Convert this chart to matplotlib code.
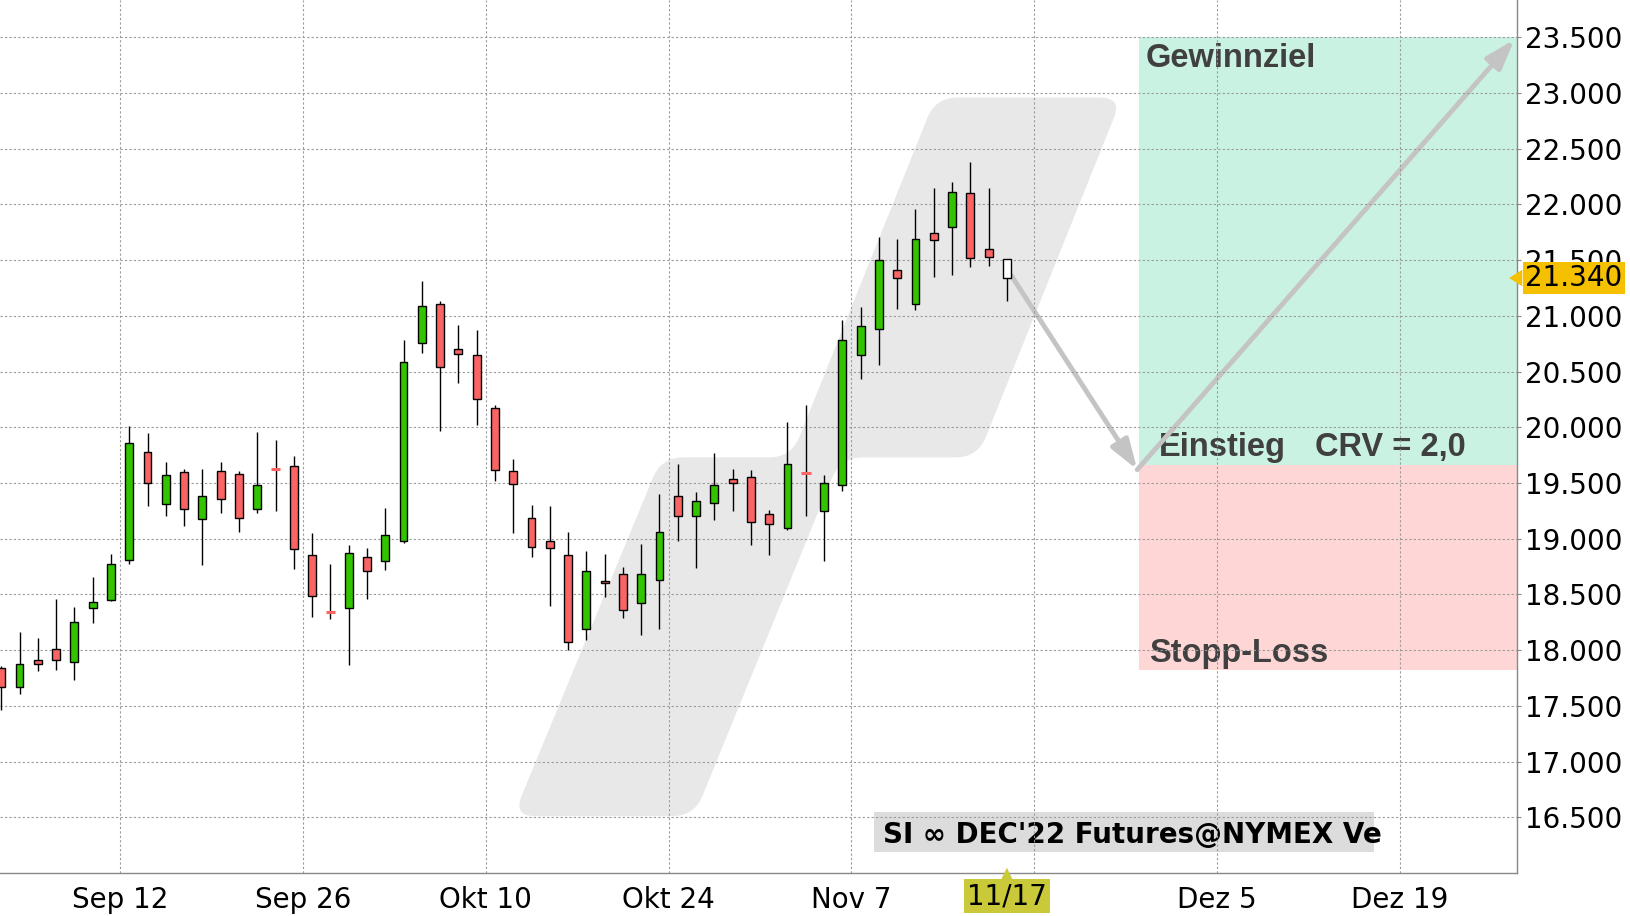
import numpy as np
import pandas as pd
import matplotlib
matplotlib.use('Agg')
import matplotlib.pyplot as plt
from matplotlib.patches import Rectangle, Polygon, PathPatch, FancyArrowPatch
from matplotlib.path import Path
from matplotlib.transforms import Bbox, TransformedBbox

# ---------------- data ----------------
start_date = '2022-09-01'
opens = [17.84, 17.67, 17.91, 18.01, 17.89, 18.38, 18.45,
         18.81, 19.78, 19.31, 19.60, 19.18, 19.61, 19.58, 19.27, 19.625, 19.65,
         18.85, 18.34, 18.38, 18.84, 18.80, 18.98, 20.76, 21.11, 20.70, 20.65,
         20.17, 19.61, 19.19, 18.98, 18.85, 18.19, 18.62, 18.68, 18.42, 18.63,
         19.38, 19.20, 19.32, 19.54, 19.55, 19.22, 19.10, 19.59, 19.25, 19.48,
         20.65, 20.88, 21.41, 21.11, 21.74, 21.80, 22.10, 21.60, 21.515]
highs = [17.86, 18.16, 18.11, 18.46, 18.39, 18.66, 18.86,
         20.01, 19.95, 19.69, 19.63, 19.63, 19.69, 19.61, 19.96, 19.89, 19.74,
         19.05, 18.77, 18.94, 18.92, 19.28, 20.78, 21.31, 21.13, 20.92, 20.87,
         20.20, 19.72, 19.30, 19.29, 19.06, 18.89, 18.86, 18.75, 18.95, 19.40,
         19.67, 19.42, 19.77, 19.63, 19.62, 19.26, 20.05, 20.20, 19.57, 20.96,
         21.08, 21.71, 21.69, 21.96, 22.15, 22.20, 22.38, 22.15, 21.515]
lows = [17.46, 17.61, 17.81, 17.82, 17.73, 18.24, 18.44,
        18.77, 19.29, 19.20, 19.11, 18.76, 19.23, 19.06, 19.23, 19.25, 18.73,
        18.30, 18.28, 17.87, 18.46, 18.72, 18.96, 20.67, 19.97, 20.40, 20.02,
        19.52, 19.05, 18.84, 18.40, 18.00, 18.09, 18.48, 18.29, 18.14, 18.19,
        18.98, 18.74, 19.17, 19.25, 18.94, 18.85, 19.08, 19.20, 18.80, 19.43,
        20.43, 20.56, 21.06, 21.05, 21.35, 21.37, 21.44, 21.45, 21.13]
closes = [17.67, 17.88, 17.88, 17.91, 18.25, 18.43, 18.77,
          19.86, 19.50, 19.57, 19.27, 19.38, 19.36, 19.19, 19.48, 19.625, 18.91,
          18.49, 18.34, 18.87, 18.71, 19.03, 20.59, 21.09, 20.54, 20.66, 20.25,
          19.62, 19.49, 18.93, 18.92, 18.07, 18.71, 18.60, 18.36, 18.68, 19.06,
          19.20, 19.34, 19.48, 19.50, 19.15, 19.13, 19.67, 19.59, 19.50, 20.78,
          20.91, 21.50, 21.34, 21.69, 21.68, 22.11, 21.52, 21.53, 21.34]

xtick_dates = ['2022-09-12', '2022-09-26', '2022-10-10', '2022-10-24',
               '2022-11-07', '2022-11-21', '2022-12-05', '2022-12-19']
xtick_labels = ['Sep 12', 'Sep 26', 'Okt 10', 'Okt 24', 'Nov 7', '', 'Dez 5', 'Dez 19']
last_label = '11/17'
last_price = 21.34
ytick_values = [16.5, 17.0, 17.5, 18.0, 18.5, 19.0, 19.5, 20.0,
                20.5, 21.0, 21.5, 22.0, 22.5, 23.0, 23.5]

target_price = 23.5
entry_price = 19.66
stop_price = 17.82
symbol_text = "SI \u221e DEC'22 Futures@NYMEX Ve"

# channel outline (trading-day index, price)
channel_x = [28.0, 37.9, 45.9, 53.4, 61.3, 51.1, 43.2, 36.1]
channel_y = [16.51, 16.51, 19.73, 19.73, 22.96, 22.96, 19.73, 19.73]

# ---------------- figure ----------------
W, H = 1630, 916
fig = plt.figure(figsize=(W / 100, H / 100), dpi=100)
ax = fig.add_axes([0, 43 / H, 1517 / W, 873 / H])
ax.set_xlim(-0.07, 82.9)
ax.set_ylim(16.0, 23.835)

days = pd.bdate_range(start_date, periods=120)
day_index = {d.strftime('%Y-%m-%d'): i for i, d in enumerate(days)}
xs = np.arange(len(opens))
grid_x = [day_index[d] - 0.5 for d in xtick_dates]
last_x = xs[-1]

GREEN = '#33c400'
RED = '#fa6464'
TXT = '#404040'

# zones
zone_x0 = 62.2
xr = ax.get_xlim()[1]
ax.add_patch(Rectangle((zone_x0, entry_price), xr - zone_x0, target_price - entry_price,
                       facecolor='#c9f2e2', edgecolor='none', zorder=0.5))
ax.add_patch(Rectangle((zone_x0, stop_price), xr - zone_x0, entry_price - stop_price,
                       facecolor='#ffd6d6', edgecolor='none', zorder=0.5))

# rounded channel shape
def rounded_path(pts, r):
    n = len(pts)
    verts, codes = [], []
    for i in range(n):
        p0, p1, p2 = pts[i - 1], pts[i], pts[(i + 1) % n]
        v1, v2 = p0 - p1, p2 - p1
        l1, l2 = np.hypot(*v1), np.hypot(*v2)
        rr = min(r, 0.45 * l1, 0.45 * l2)
        a = p1 + v1 / l1 * rr
        b = p1 + v2 / l2 * rr
        verts.append(a)
        codes.append(Path.MOVETO if i == 0 else Path.LINETO)
        verts += [p1, b]
        codes += [Path.CURVE3, Path.CURVE3]
    verts.append(verts[0])
    codes.append(Path.CLOSEPOLY)
    return np.array(verts), codes

pts_px = ax.transData.transform(np.column_stack([channel_x, channel_y]))
v_px, cds = rounded_path(pts_px, 22)
v_data = ax.transData.inverted().transform(v_px)
ax.add_patch(PathPatch(Path(v_data, cds), facecolor='#e8e8e8', edgecolor='none', zorder=0.6))

# labels in zones
fkw = dict(fontsize=23.5, fontweight='bold', color=TXT, family=['Liberation Sans', 'DejaVu Sans'],
           zorder=1.5, va='baseline', ha='left')
ax.text(62.6, 23.232, 'Gewinnziel', **fkw)
ax.text(63.3, 19.741, 'Einstieg', **fkw)
ax.text(71.85, 19.741, 'CRV = 2,0', **fkw)
ax.text(62.75, 17.891, 'Stopp-Loss', **fkw)

# arrows
akw = dict(arrowstyle='-|>,head_length=0.9,head_width=0.3', mutation_scale=20,
           linewidth=3.5, color='#c4c4c4', shrinkA=0, shrinkB=0, zorder=1.6)
ax.add_patch(FancyArrowPatch((55.25, 21.36), (62.13, 19.62), **akw))
ax.add_patch(FancyArrowPatch((62.13, 19.62), (82.76, 23.48), **akw))

# symbol box
box_x0, box_x1 = 47.75, 75.1
box_y0, box_y1 = 16.19, 16.549
sym_box = Rectangle((box_x0, box_y0), box_x1 - box_x0, box_y1 - box_y0,
                    facecolor='#dcdcdc', edgecolor='none', zorder=1.4)
ax.add_patch(sym_box)
sym = ax.text(48.22, 16.266, symbol_text, fontsize=20,
              fontweight='bold', family='DejaVu Sans', color='black',
              va='baseline', ha='left', zorder=1.5)
sym.set_clip_box(TransformedBbox(Bbox([[box_x0, box_y0], [box_x1, box_y1]]), ax.transData))

# candles
w = 0.43
for x, o, h, l, c in zip(xs, opens, highs, lows, closes):
    ax.vlines(x, l, h, color='black', linewidth=1.0, zorder=3)
    if x == last_x:
        ax.bar(x, abs(o - c), bottom=min(o, c), width=w, facecolor='white',
               edgecolor='black', linewidth=1.0, zorder=4)
    elif abs(o - c) < 1e-6:
        ax.hlines(o, x - w / 2 - 0.05, x + w / 2 + 0.05, color=RED, linewidth=2.2, zorder=4)
    else:
        col = GREEN if c > o else RED
        ax.bar(x, abs(o - c), bottom=min(o, c), width=w, facecolor=col,
               edgecolor='black', linewidth=1.0, zorder=4)

# axes styling
ax.set_axisbelow(False)
ax.set_xticks(grid_x)
ax.set_xticklabels(xtick_labels)
ax.set_yticks(ytick_values)
ax.set_yticklabels([f'{v:.3f}' for v in ytick_values])
ax.yaxis.tick_right()
ax.grid(True, color='#9a9a9a', linestyle=(0, (2, 2)), linewidth=0.8)
ax.tick_params(axis='x', length=0, pad=9, labelsize=20)
ax.tick_params(axis='y', length=3, pad=3, labelsize=20, color='#888888')
for s in ['top', 'left']:
    ax.spines[s].set_visible(False)
for s in ['bottom', 'right']:
    ax.spines[s].set_color('#888888')
    ax.spines[s].set_linewidth(1.0)

# last price label on the y axis
ytr = ax.get_yaxis_transform()
ax.text(1.0053, last_price, f'{last_price:.3f}', transform=ytr, fontsize=20,
        va='center', ha='left', color='black', zorder=10, clip_on=False,
        bbox=dict(boxstyle='square,pad=0.08', facecolor='#f5c000', edgecolor='none'))
ax.add_patch(Polygon([(0.9948, last_price), (1.0035, last_price + 0.075),
                      (1.0035, last_price - 0.075)], closed=True, transform=ytr,
                     facecolor='#f5c000', edgecolor='none', zorder=10, clip_on=False))

# last date label on the x axis
xtr = ax.get_xaxis_transform()
ax.text(last_x, -0.0265, last_label, transform=xtr, fontsize=20, va='center',
        ha='center', color='black', zorder=10, clip_on=False,
        bbox=dict(boxstyle='square,pad=0.1', facecolor='#c9c93a', edgecolor='none'))
ax.add_patch(Polygon([(last_x, 0.006), (last_x - 0.35, -0.009), (last_x + 0.35, -0.009)],
                     closed=True, transform=xtr, facecolor='#c9c93a', edgecolor='none',
                     zorder=10, clip_on=False))

fig.savefig('out.png', dpi=100)
